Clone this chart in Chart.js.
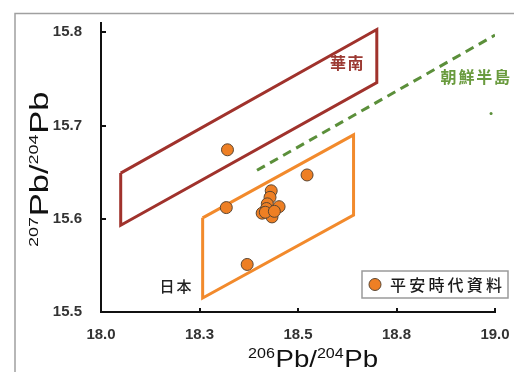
<!DOCTYPE html>
<html>
<head>
<meta charset="utf-8">
<script src="https://cdn.jsdelivr.net/npm/chart.js@4/dist/chart.umd.min.js"></script>
<style>
  html, body { margin: 0; padding: 0; background: #fff; }
  canvas { display: block; }
</style>
</head>
<body>
<canvas id="chart" width="515" height="372"></canvas>
<script>
// Lead isotope ratios of Heian-period samples (206Pb/204Pb, 207Pb/204Pb)
const heianX = [18.321, 18.318, 18.371, 18.523, 18.432, 18.429, 18.422, 18.420, 18.409, 18.452, 18.434, 18.417, 18.440];
const heianY = [15.674, 15.612, 15.551, 15.647, 15.630, 15.623, 15.616, 15.611, 15.606, 15.613, 15.602, 15.607, 15.608];

// Source regions (closed outlines)
const huananX = [18.05, 18.70, 18.70, 18.05, 18.05];
const huananY = [15.649, 15.803, 15.746, 15.593, 15.649];
const japanX = [18.258, 18.641, 18.641, 18.258, 18.258];
const japanY = [15.601, 15.690, 15.604, 15.515, 15.601];

// Korean peninsula trend line
const koreaX = [18.396, 19.0];
const koreaY = [15.652, 15.797];
const koreaDotX = [18.99];
const koreaDotY = [15.713];

// Axis ticks
const xTicks = [18.0, 18.25, 18.5, 18.75, 19.0];
const xTickLabels = ['18.0', '18.3', '18.5', '18.8', '19.0'];
const yTicks = [15.5, 15.6, 15.7, 15.8];
const yTickLabels = ['15.5', '15.6', '15.7', '15.8'];

// Names
const seriesLabel = '平安時代資料';
const regionNames = ['華南', '朝鮮半島', '日本'];

const zip = (xs, ys) => xs.map((x, i) => ({ x, y: ys[i] }));

const LATIN = "'Liberation Sans', Arial, sans-serif";
const CJK = "'Noto Sans CJK JP', 'Noto Sans', sans-serif";

const colors = {
  point: '#ee7f24',
  pointEdge: '#5b4632',
  huanan: '#a0322c',
  japan: '#f28a2c',
  korea: '#5b8f3a',
  koreaText: '#6a9b3e',
  axis: '#111',
  tickText: '#333',
  frame: '#a0a0a0'
};

// Region label anchors in data units
const regionLabelStyle = [
  { text: regionNames[0], x: 18.624, y: 15.767, color: '#9c3a33', weight: 'bold', size: 16, spacing: 1.5 },
  { text: regionNames[1], x: 18.950, y: 15.752, color: colors.koreaText, weight: 'bold', size: 16, spacing: 1.8 },
  { text: regionNames[2], x: 18.189, y: 15.528, color: '#222', weight: '500', size: 15, spacing: 2 }
];

function drawSpacedText(ctx, text, cx, cy, size, spacing) {
  const chars = Array.from(text);
  const widths = chars.map(c => ctx.measureText(c).width);
  const total = widths.reduce((a, b) => a + b, 0) + spacing * (chars.length - 1);
  let x = cx - total / 2;
  ctx.textAlign = 'left';
  ctx.textBaseline = 'middle';
  chars.forEach((c, i) => {
    ctx.fillText(c, x, cy);
    x += widths[i] + spacing;
  });
  return total;
}

// Axis title with superscript mass numbers, centred on the current origin
function drawIsotopeTitle(ctx, parts, bigSize, supSize, rise, targetLen) {
  const big = `${bigSize}px ${LATIN}`;
  const sup = `${supSize}px ${LATIN}`;
  let total = 0;
  const widths = parts.map(p => {
    ctx.font = p.sup ? sup : big;
    const w = ctx.measureText(p.t).width;
    total += w;
    return w;
  });
  ctx.save();
  ctx.scale(targetLen / total, 1);
  let x = -total / 2;
  ctx.textAlign = 'left';
  ctx.textBaseline = 'alphabetic';
  parts.forEach((p, i) => {
    ctx.font = p.sup ? sup : big;
    ctx.fillText(p.t, x, p.sup ? -rise : 0);
    x += widths[i] + (p.sup ? 0.5 : 0);
  });
  ctx.restore();
}

const decorations = {
  id: 'decorations',
  beforeDraw(chart) {
    const ctx = chart.ctx;
    ctx.save();
    ctx.strokeStyle = colors.frame;
    ctx.lineWidth = 1.5;
    ctx.beginPath();
    ctx.moveTo(15, 372);
    ctx.lineTo(15, 13.5);
    ctx.lineTo(514, 13.5);
    ctx.stroke();
    ctx.restore();
  },
  afterDraw(chart) {
    const ctx = chart.ctx;
    const xs = chart.scales.x, ys = chart.scales.y;
    ctx.save();

    // inward tick marks
    ctx.strokeStyle = colors.axis;
    ctx.lineWidth = 2;
    ctx.beginPath();
    yTicks.forEach(v => {
      const py = Math.round(ys.getPixelForValue(v));
      ctx.moveTo(xs.left, py);
      ctx.lineTo(xs.left + 5, py);
    });
    xTicks.forEach(v => {
      const px = Math.round(xs.getPixelForValue(v));
      ctx.moveTo(px, ys.bottom);
      ctx.lineTo(px, ys.bottom - 4);
    });
    ctx.stroke();

    // region labels
    regionLabelStyle.forEach(l => {
      ctx.fillStyle = l.color;
      ctx.font = `${l.weight} ${l.size}px ${CJK}`;
      drawSpacedText(ctx, l.text, xs.getPixelForValue(l.x), ys.getPixelForValue(l.y), l.size, l.spacing);
    });

    // legend
    ctx.fillStyle = '#fff';
    ctx.fillRect(362, 271, 146, 27);
    ctx.strokeStyle = '#9a9a9a';
    ctx.lineWidth = 1.5;
    ctx.strokeRect(362, 271, 146, 27);
    ctx.beginPath();
    ctx.arc(375, 284.5, 6, 0, Math.PI * 2);
    ctx.fillStyle = colors.point;
    ctx.fill();
    ctx.lineWidth = 1;
    ctx.strokeStyle = colors.pointEdge;
    ctx.stroke();
    ctx.fillStyle = '#1a1a1a';
    ctx.font = `500 16px ${CJK}`;
    drawSpacedText(ctx, chart.data.datasets[0].label, 446, 285, 16, 3.2);

    // axis titles
    ctx.fillStyle = '#111';
    ctx.save();
    ctx.translate(312.5, 367);
    drawIsotopeTitle(ctx, [
      { t: '206', sup: true }, { t: 'Pb' }, { t: '/' }, { t: '204', sup: true }, { t: 'Pb' }
    ], 24, 14, 9, 129);
    ctx.restore();

    ctx.save();
    ctx.translate(48, 170);
    ctx.rotate(-Math.PI / 2);
    drawIsotopeTitle(ctx, [
      { t: '207', sup: true }, { t: 'Pb' }, { t: '/' }, { t: '204', sup: true }, { t: 'Pb' }
    ], 25, 13, 10, 154);
    ctx.restore();

    ctx.restore();
  }
};

const outline = (data, color, extra = {}) => Object.assign({
  data,
  showLine: true,
  borderColor: color,
  backgroundColor: color,
  borderWidth: 3,
  pointRadius: 0,
  pointHoverRadius: 0,
  tension: 0,
  fill: false,
  borderJoinStyle: 'miter'
}, extra);

new Chart(document.getElementById('chart'), {
  type: 'scatter',
  data: {
    datasets: [
      {
        label: seriesLabel,
        data: zip(heianX, heianY),
        pointRadius: 6,
        pointHoverRadius: 6,
        backgroundColor: colors.point,
        borderColor: colors.pointEdge,
        borderWidth: 1
      },
      outline(zip(huananX, huananY), colors.huanan, { label: regionNames[0] }),
      outline(zip(japanX, japanY), colors.japan, { label: regionNames[2] }),
      outline(zip(koreaX, koreaY), colors.korea, { label: regionNames[1], borderDash: [9, 6], borderCapStyle: 'butt' }),
      {
        label: regionNames[1],
        data: zip(koreaDotX, koreaDotY),
        pointRadius: 1.5,
        backgroundColor: colors.korea,
        borderWidth: 0
      }
    ]
  },
  options: {
    responsive: false,
    animation: false,
    layout: { padding: { left: 0, top: 23, right: 20, bottom: 0 } },
    plugins: { legend: { display: false }, tooltip: { enabled: false } },
    scales: {
      x: {
        type: 'linear',
        min: 18.0,
        max: 19.0,
        afterBuildTicks: s => { s.ticks = xTicks.map(v => ({ value: v })); },
        afterFit: s => { s.height = 60; s.paddingLeft = 0; s.paddingRight = 0; },
        grid: { display: false, drawTicks: false },
        border: { display: true, color: colors.axis, width: 2 },
        ticks: {
          callback: (v, i) => xTickLabels[i],
          color: colors.tickText,
          font: { family: LATIN, size: 15, weight: 'bold' },
          padding: 14,
          maxRotation: 0,
          autoSkip: false
        }
      },
      y: {
        type: 'linear',
        min: 15.5,
        max: 15.81,
        afterBuildTicks: s => { s.ticks = yTicks.map(v => ({ value: v })); },
        afterFit: s => { s.width = 101; s.paddingTop = 0; s.paddingBottom = 0; },
        grid: { display: false, drawTicks: false },
        border: { display: true, color: colors.axis, width: 2 },
        ticks: {
          callback: (v, i) => yTickLabels[i],
          color: colors.tickText,
          font: { family: LATIN, size: 15, weight: 'bold' },
          padding: 19,
          autoSkip: false
        }
      }
    }
  },
  plugins: [decorations]
});
</script>
</body>
</html>
